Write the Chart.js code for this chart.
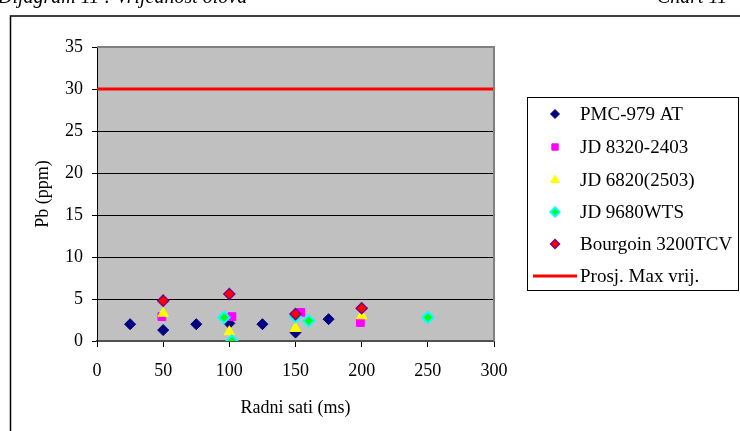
<!DOCTYPE html>
<html>
<head>
<meta charset="utf-8">
<script src="https://cdn.jsdelivr.net/npm/chart.js@4/dist/chart.umd.min.js"></script>
<style>
  html, body { margin: 0; padding: 0; background: #fff; }
  #wrap { width: 740px; height: 431px; position: relative; }
</style>
</head>
<body>
<div id="wrap"><canvas id="pbChart" width="740" height="431"></canvas></div>
<script>
/* data */
const seriesNames = ['PMC-979 AT', 'JD 8320-2403', 'JD 6820(2503)', 'JD 9680WTS', 'Bourgoin 3200TCV', 'Prosj. Max vrij.']

const pmcX = [25, 50, 75, 100, 125, 150, 175]
const pmcY = [2.0, 1.3, 2.0, 2.1, 2.0, 1.0, 2.6]

const jd8320X = [49, 102, 154, 199]
const jd8320Y = [2.9, 2.9, 3.4, 2.2]

const jd6820X = [50, 100, 150, 200]
const jd6820Y = [3.3, 1.1, 1.5, 3.0]

const jd9680X = [96, 102, 150, 160, 250]
const jd9680Y = [2.8, 0.0, 2.9, 2.4, 2.8]

const bourgoinX = [50, 100, 150, 200]
const bourgoinY = [4.8, 5.6, 3.2, 3.9]

const maxX = [0, 300]
const maxY = [30, 30]

const xTicks = [0, 50, 100, 150, 200, 250, 300]
const yTicks = [0, 5, 10, 15, 20, 25, 30, 35]

const FONT = '"Liberation Serif", "Times New Roman", serif'

function pts(xs, ys) {
    return xs.map(function(x, i) { return {x: x, y: ys[i]} })
}

/* grey plot, frame, header and legend */
const decor = {
    id: 'decor',
    beforeDraw: function(chart) {
        const ctx = chart.ctx
        const a = chart.chartArea
        ctx.save()
        ctx.fillStyle = '#fff'
        ctx.fillRect(0, 0, chart.width, chart.height)
        ctx.fillStyle = '#c0c0c0'
        ctx.fillRect(a.left, a.top, a.right - a.left, a.bottom - a.top)

        // outer frame (only top and left visible)
        ctx.strokeStyle = '#000'
        ctx.lineWidth = 1.5
        ctx.beginPath()
        ctx.moveTo(10.5, 431)
        ctx.lineTo(10.5, 16)
        ctx.lineTo(740, 16)
        ctx.stroke()

        // header text, mostly cut off at the top
        ctx.fillStyle = '#000'
        ctx.font = 'italic 20px ' + FONT
        ctx.textBaseline = 'alphabetic'
        ctx.textAlign = 'left'
        ctx.fillText('Dijagram 11 : Vrijednost olova', -2, 3)
        ctx.fillText('Chart 11', 657, 3)
        ctx.restore()
    },
    afterDraw: function(chart) {
        const ctx = chart.ctx
        const a = chart.chartArea
        ctx.save()
        // plot border top and right
        ctx.strokeStyle = '#808080'
        ctx.lineWidth = 2
        ctx.beginPath()
        ctx.moveTo(a.left, a.top)
        ctx.lineTo(a.right, a.top)
        ctx.lineTo(a.right, a.bottom)
        ctx.stroke()

        // legend
        ctx.strokeStyle = '#000'
        ctx.lineWidth = 1
        ctx.strokeRect(527.5, 97.5, 211, 193)
        const rows = [114, 147, 180, 212, 244, 276]
        ctx.font = '19px ' + FONT
        ctx.textBaseline = 'middle'
        ctx.textAlign = 'left'
        chart.data.datasets.forEach(function(ds, i) {
            const y = rows[i]
            if (ds.type === 'line') {
                ctx.strokeStyle = ds.borderColor
                ctx.lineWidth = 3
                ctx.beginPath()
                ctx.moveTo(533, y)
                ctx.lineTo(577, y)
                ctx.stroke()
            } else {
                ctx.fillStyle = ds.backgroundColor
                ctx.strokeStyle = ds.borderColor
                ctx.lineWidth = ds.borderWidth
                Chart.helpers.drawPoint(ctx, {pointStyle: ds.pointStyle, radius: ds.pointRadius - 1, rotation: 0, borderWidth: ds.borderWidth}, 555, y)
            }
            ctx.fillStyle = '#000'
            ctx.fillText(ds.label, 580, y + 1)
        })
        ctx.restore()
    }
}

const ctx = document.getElementById('pbChart').getContext('2d')
const pbChart = new Chart(ctx, {
    type: 'scatter',
    data: {
        datasets: [
            {
                label: seriesNames[0], data: pts(pmcX, pmcY), order: 5,
                pointStyle: 'rectRot', pointRadius: 5.5, borderWidth: 1,
                backgroundColor: '#000080', borderColor: '#000080'
            },
            {
                label: seriesNames[1], data: pts(jd8320X, jd8320Y), order: 4,
                pointStyle: 'rect', pointRadius: 5.5, borderWidth: 1,
                backgroundColor: '#ff00ff', borderColor: '#ff00ff'
            },
            {
                label: seriesNames[2], data: pts(jd6820X, jd6820Y), order: 3,
                pointStyle: 'triangle', pointRadius: 6, borderWidth: 1,
                backgroundColor: '#ffff00', borderColor: '#ffff00'
            },
            {
                label: seriesNames[3], data: pts(jd9680X, jd9680Y), order: 2,
                pointStyle: 'rectRot', pointRadius: 5.5, borderWidth: 2,
                backgroundColor: '#00ff00', borderColor: '#00ffff'
            },
            {
                label: seriesNames[4], data: pts(bourgoinX, bourgoinY), order: 1,
                pointStyle: 'rectRot', pointRadius: 5.5, borderWidth: 1.5,
                backgroundColor: '#ff0000', borderColor: '#800080'
            },
            {
                type: 'line', label: seriesNames[5], data: pts(maxX, maxY), order: 0,
                borderColor: '#ff0000', backgroundColor: '#ff0000',
                borderWidth: 3, pointRadius: 0, showLine: true
            }
        ]
    },
    options: {
        responsive: false,
        animation: false,
        events: [],
        layout: { padding: { top: 47, right: 246, left: 0, bottom: 0 } },
        plugins: { legend: { display: false }, tooltip: { enabled: false } },
        scales: {
            x: {
                type: 'linear', min: 0, max: 300,
                afterFit: function(s) { s.height = 90 },
                afterBuildTicks: function(s) { s.ticks = xTicks.map(function(v) { return {value: v} }) },
                grid: { drawOnChartArea: false, drawTicks: true, tickLength: 6, tickColor: '#000' },
                border: { color: '#505050', width: 2 },
                ticks: { color: '#000', padding: 13, maxRotation: 0, font: { family: FONT, size: 18 } },
                title: { display: true, text: 'Radni sati (ms)', color: '#000', padding: { top: 0, bottom: 12 }, font: { family: FONT, size: 18 } }
            },
            y: {
                type: 'linear', min: 0, max: 35,
                afterFit: function(s) { s.width = 97 },
                afterBuildTicks: function(s) { s.ticks = yTicks.map(function(v) { return {value: v} }) },
                grid: {
                    color: function(c) { return c.tick && (c.tick.value === 0 || c.tick.value === 35) ? 'rgba(0,0,0,0)' : '#000' },
                    lineWidth: 1, drawTicks: true, tickLength: 5, tickColor: '#000'
                },
                border: { color: '#000', width: 1 },
                ticks: { color: '#000', padding: 9, font: { family: FONT, size: 18 } },
                title: { display: true, text: 'Pb (ppm)', color: '#000', padding: { top: 32, bottom: 0 }, font: { family: FONT, size: 18 } }
            }
        }
    },
    plugins: [decor]
})
</script>
</body>
</html>
